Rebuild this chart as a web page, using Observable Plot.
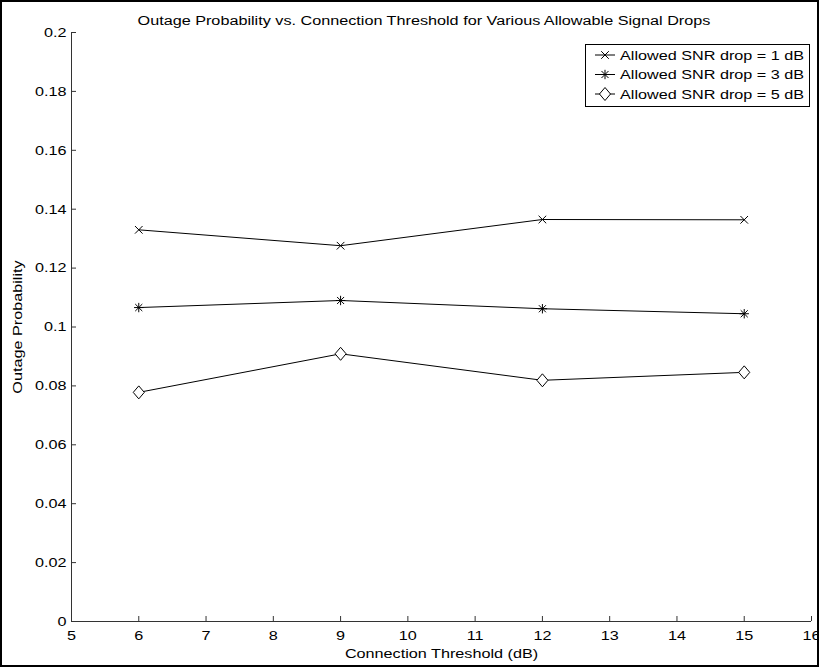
<!DOCTYPE html>
<html><head><meta charset="utf-8">
<script src="https://cdn.jsdelivr.net/npm/d3@7"></script>
<script src="https://cdn.jsdelivr.net/npm/@observablehq/plot@0.6"></script>
<style>
body{margin:0;background:#fff;}
#fig{position:relative;width:819px;height:667px;font-family:"Liberation Sans",Arial,Helvetica,sans-serif;color:#000;}
#border{position:absolute;left:0;top:0;width:819px;height:667px;box-sizing:border-box;border:2px solid #000;pointer-events:none;}
#chart{position:absolute;left:0;top:0;}
#overlay{position:absolute;left:0;top:0;pointer-events:none;}
</style></head>
<body>
<div id="fig">
  <div id="chart"></div>
  <svg id="overlay" width="819" height="667"></svg>
  <div id="border"></div>
</div>
<script>
// ---- data ----
const thresholds = [6, 9, 12, 15];
const drop1 = [0.1330, 0.1276, 0.1365, 0.1364];
const drop3 = [0.1066, 0.1090, 0.1062, 0.1045];
const drop5 = [0.0778, 0.0909, 0.0819, 0.0846];
const seriesNames = ["Allowed SNR drop = 1 dB", "Allowed SNR drop = 3 dB", "Allowed SNR drop = 5 dB"];
const xTicks = [5, 6, 7, 8, 9, 10, 11, 12, 13, 14, 15, 16];
const yTicks = [0, 0.02, 0.04, 0.06, 0.08, 0.1, 0.12, 0.14, 0.16, 0.18, 0.2];
const xDomain = [5, 16];
const yDomain = [0, 0.2];
const titleText = "Outage Probability vs. Connection Threshold for Various Allowable Signal Drops";
const xLabel = "Connection Threshold (dB)";
const yLabel = "Outage Probability";

// ---- marker shapes (MATLAB-like x, *, diamond) ----
const xMark = {draw(ctx, size){const r=Math.sqrt(size/Math.PI);ctx.moveTo(-r,-r);ctx.lineTo(r,r);ctx.moveTo(-r,r);ctx.lineTo(r,-r);}};
const starMark = {draw(ctx, size){const r=Math.sqrt(size/Math.PI);const d=r*0.75;
  ctx.moveTo(-r,0);ctx.lineTo(r,0);ctx.moveTo(0,-r);ctx.lineTo(0,r);
  ctx.moveTo(-d,-d);ctx.lineTo(d,d);ctx.moveTo(-d,d);ctx.lineTo(d,-d);}};
const diamondMark = {draw(ctx, size){const r=Math.sqrt(size/Math.PI);const w=r*0.85;
  ctx.moveTo(0,-r);ctx.lineTo(w,0);ctx.lineTo(0,r);ctx.lineTo(-w,0);ctx.closePath();}};
const markers = [
  {symbol: xMark, r: 3.8, fill: "none"},
  {symbol: starMark, r: 4.7, fill: "none"},
  {symbol: diamondMark, r: 6.5, fill: "white"}
];

const rows = [];
[drop1, drop3, drop5].forEach((vals, i) => vals.forEach((v, j) => rows.push({series: seriesNames[i], idx: i, x: thresholds[j], y: v})));

const font = '"Liberation Sans", Arial, Helvetica, sans-serif';
const fontSize = 13.5;
const stretch = 1.2; // reference glyphs are wider than their height suggests

const chart = Plot.plot({
  width: 819, height: 667,
  marginLeft: 71, marginRight: 8, marginTop: 32, marginBottom: 46,
  style: {fontFamily: font, fontSize: fontSize + "px", color: "#000", background: "transparent", overflow: "visible"},
  x: {domain: xDomain, ticks: xTicks},
  y: {domain: yDomain, ticks: yTicks, tickFormat: d3.format("~g")},
  marks: [
    Plot.ruleX([xDomain[0]], {stroke: "#333", strokeWidth: 1}),
    Plot.ruleY([yDomain[0]], {stroke: "#333", strokeWidth: 1}),
    Plot.axisX({ticks: xTicks, tickSize: -5, tickPadding: 14, stroke: "#333", label: xLabel, labelAnchor: "center", labelOffset: 36, labelArrow: "none"}),
    Plot.axisY({ticks: yTicks, tickFormat: d3.format("~g"), tickSize: -5, tickPadding: 10, stroke: "#333", label: yLabel, labelAnchor: "center", labelOffset: 59, labelArrow: "none"}),
    Plot.line(rows, {x: "x", y: "y", z: "series", stroke: "#000", strokeWidth: 1}),
    ...markers.map((m, i) => Plot.dot(rows.filter(d => d.idx === i), {x: "x", y: "y", symbol: m.symbol, r: m.r, fill: m.fill, stroke: "#000", strokeWidth: 1}))
  ]
});
document.getElementById("chart").appendChild(chart);

// ---- title and legend (overlay) ----
const ov = d3.select("#overlay").style("font-family", font).style("font-size", fontSize + "px");
ov.append("text").attr("x", 424).attr("y", 20).attr("dy", "0.35em").attr("text-anchor", "middle").attr("fill", "#000").text(titleText);

const lg = ov.append("g");
lg.append("rect").attr("x", 585.5).attr("y", 44.5).attr("width", 224).attr("height", 62).attr("fill", "#fff").attr("stroke", "#000");
const rowY = [55, 74.5, 94];
seriesNames.forEach((name, i) => {
  const g = lg.append("g").attr("transform", `translate(0,${rowY[i]})`);
  g.append("line").attr("x1", 595).attr("x2", 615).attr("y1", 0).attr("y2", 0).attr("stroke", "#000");
  g.append("path").attr("transform", "translate(605,0)")
    .attr("d", d3.symbol(markers[i].symbol, Math.PI * markers[i].r * markers[i].r)())
    .attr("fill", markers[i].fill).attr("stroke", "#000");
  g.append("text").attr("x", 620).attr("y", 0).attr("dy", "0.35em").attr("fill", "#000").text(name);
});

// widen every text's glyphs horizontally (along its own direction), keeping its anchor fixed
document.querySelectorAll("#fig text").forEach(t => {
  const bb = t.getBBox();
  if (!bb.width) return;
  const anchor = getComputedStyle(t).textAnchor;
  const ax = anchor === "middle" ? bb.x + bb.width / 2 : anchor === "end" ? bb.x + bb.width : bb.x;
  const prev = t.getAttribute("transform") || "";
  t.setAttribute("transform", `${prev} translate(${ax},0) scale(${stretch},1) translate(${-ax},0)`.trim());
});
</script>
</body></html>
